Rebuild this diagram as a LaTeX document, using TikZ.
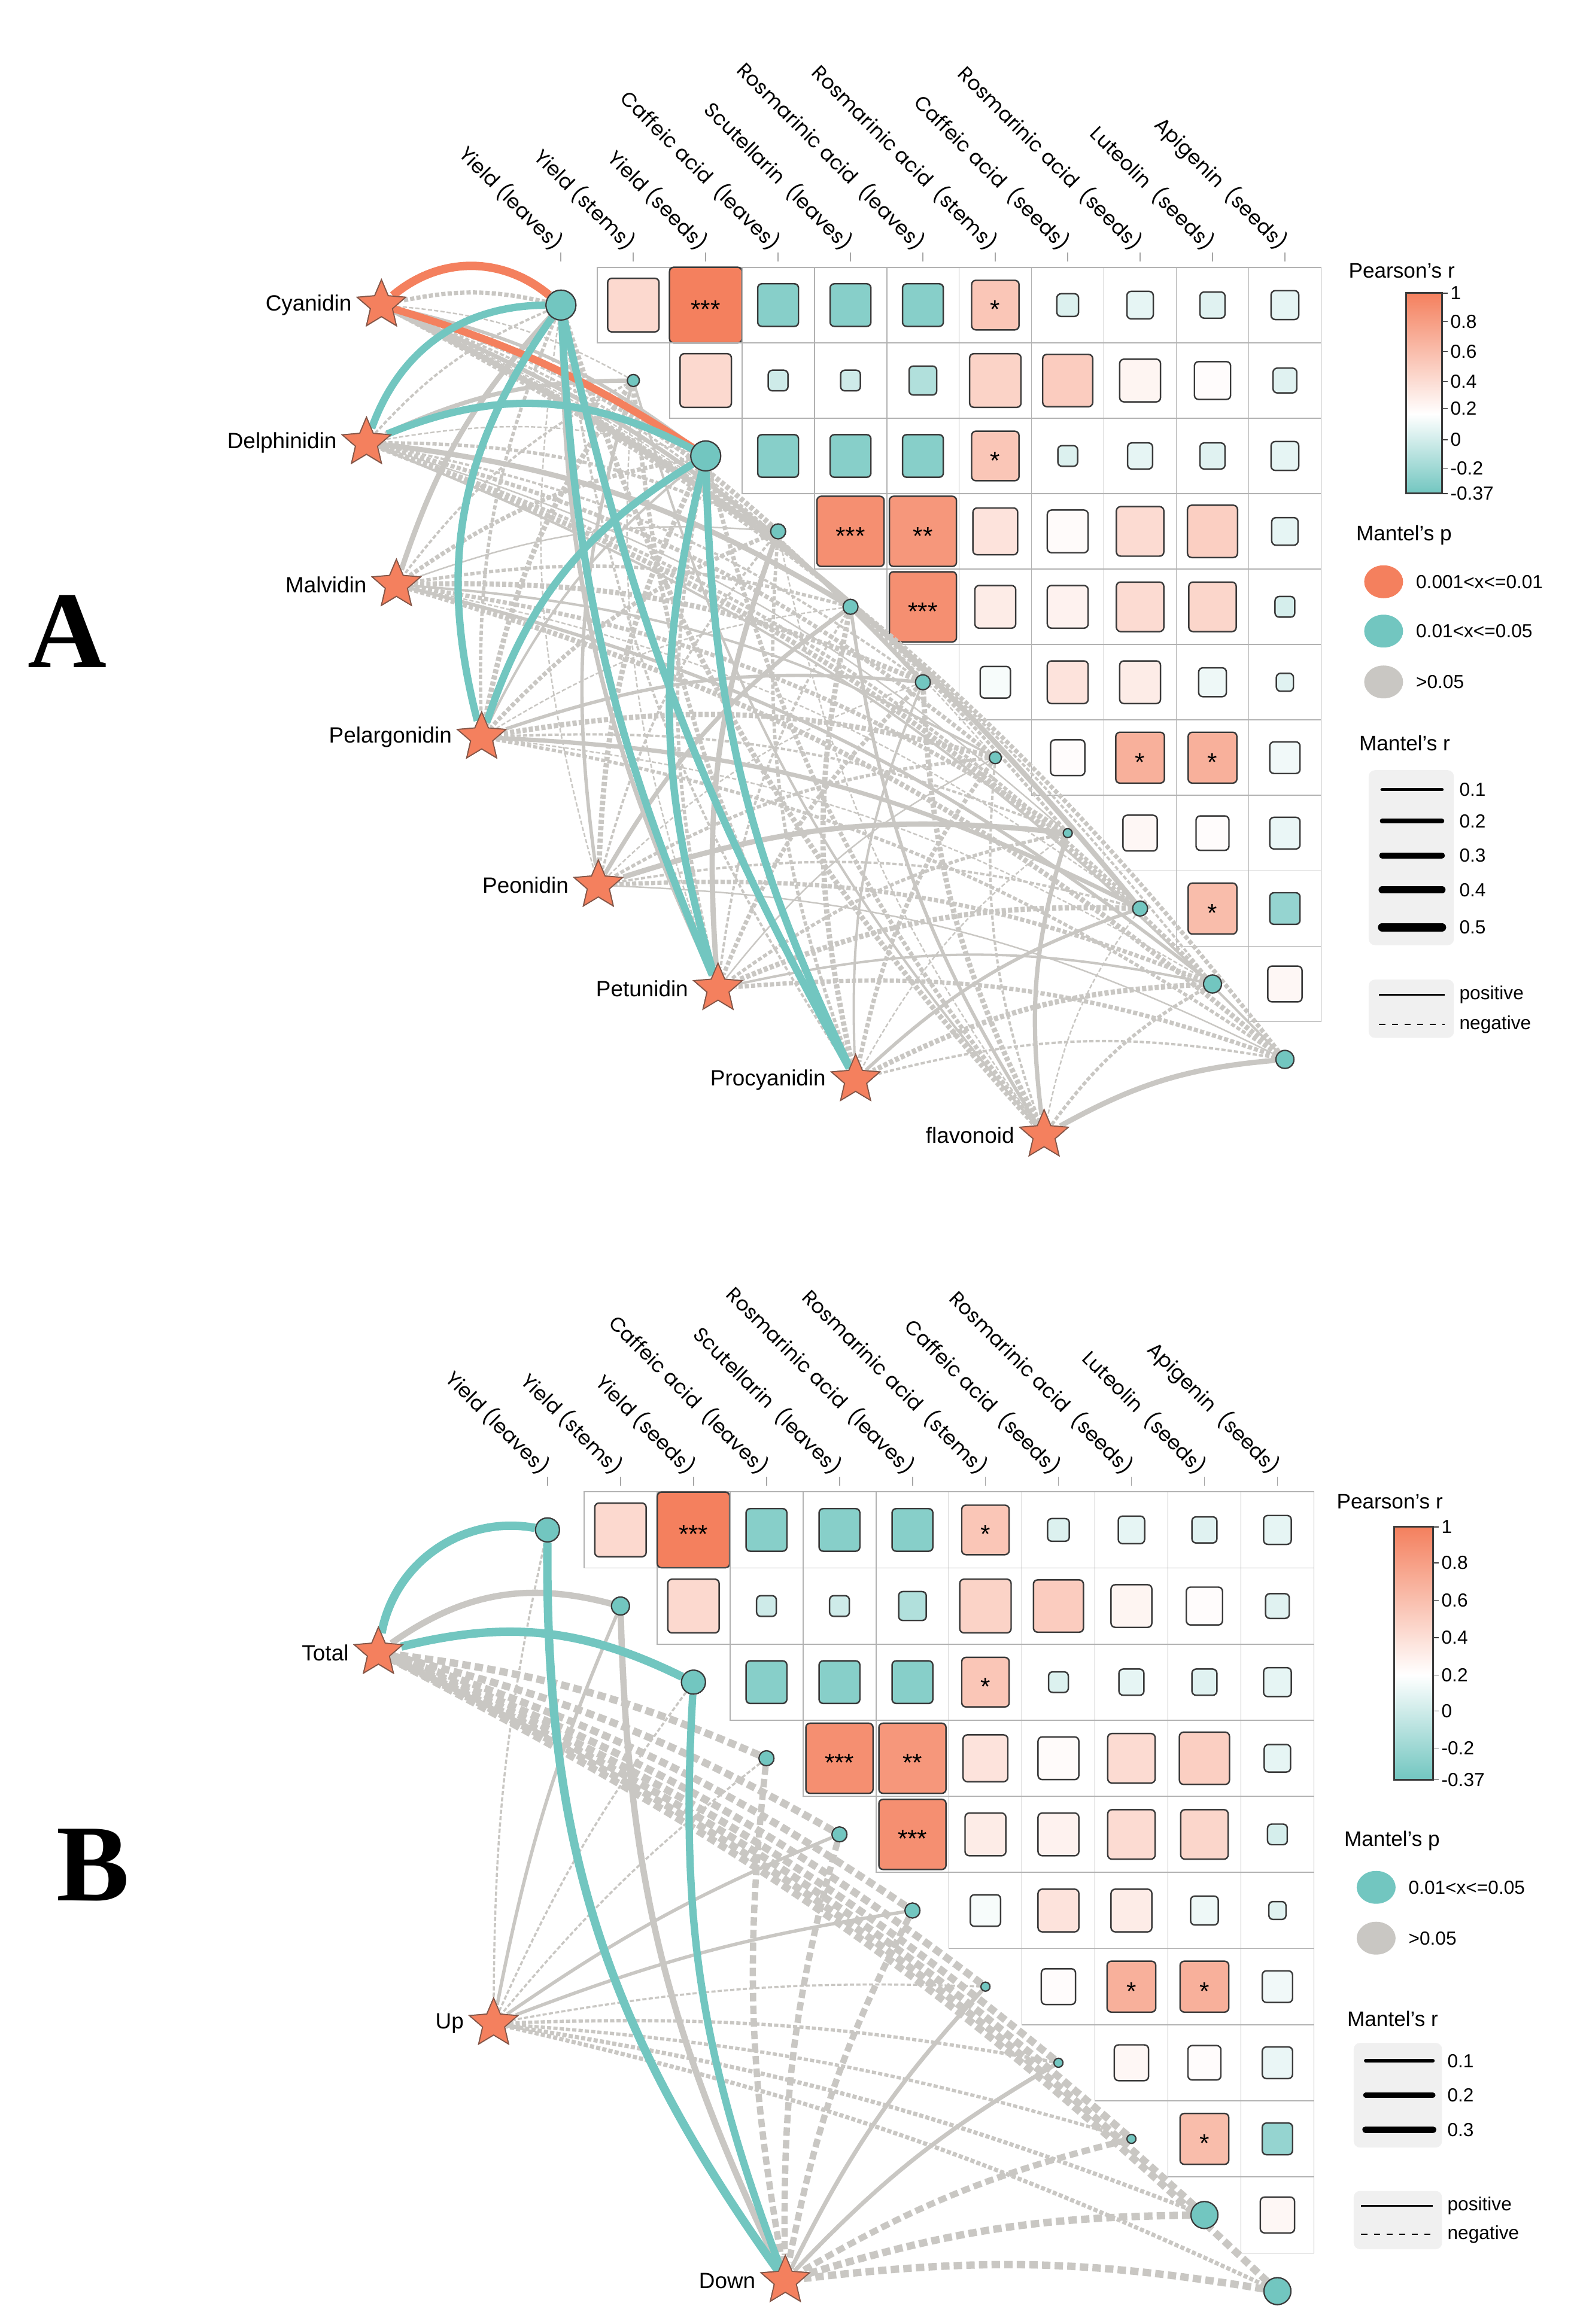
\documentclass[tikz,border=0pt]{standalone}
\usepackage{fontspec}
\setmainfont{Liberation Sans}
\newfontfamily\gothic{Poppins}
\newfontfamily\timesf{Liberation Serif}
\usetikzlibrary{shapes.geometric}
\definecolor{mOrange}{HTML}{F4805E}
\definecolor{mTeal}{HTML}{72C6C0}
\definecolor{mGray}{HTML}{C9C7C3}
\definecolor{mEdge}{HTML}{3A3A3A}
\tikzset{
  cell/.style={draw=gray!60, line width=0.5pt},
  rbox/.style={draw=mEdge, line width=0.7pt, rounded corners=2pt},
  var/.style={circle, draw=mEdge, fill=mTeal, line width=0.6pt, inner sep=0pt},
  anth/.style={star, star points=5, star point ratio=2.2, draw=mEdge!60!mOrange, fill=mOrange, minimum size=0.85cm, inner sep=0pt, line width=0.5pt},
  lab/.style={font=\fontsize{10.5}{12}\selectfont, anchor=east},
  collab/.style={font=\gothic\fontsize{9.5}{11}\selectfont, rotate=-45, anchor=east, inner sep=1pt},
  leg/.style={font=\fontsize{9}{10}\selectfont, anchor=west, inner sep=1pt},
  pos/.style={line width=#1pt, mGray},
  neg/.style={line width=#1pt, mGray, dash pattern=on 2pt off 1pt},
  sigA/.style={line width=#1pt, mOrange},
  sigB/.style={line width=#1pt, mTeal},
}
% correlation grid: #1 x of first variable, #2 y of first row, #3 column step, #4 row step
\newcommand{\corrgrid}[4]{%
  \foreach \i/\j/\t/\p/\s/\l in {
    0/1/o/30/0.78/, 0/2/o/100/1.1/***, 0/3/t/85/0.62/, 0/4/t/85/0.62/, 0/5/t/85/0.62/, 0/6/o/45/0.72/*, 0/7/t/25/0.33/, 0/8/t/18/0.4/, 0/9/t/22/0.38/, 0/10/t/18/0.42/,
    1/2/o/30/0.78/, 1/3/t/35/0.3/, 1/4/t/35/0.3/, 1/5/t/55/0.42/, 1/6/o/35/0.78/, 1/7/o/40/0.76/, 1/8/o/8/0.62/, 1/9/o/2/0.55/, 1/10/t/22/0.36/,
    2/3/t/85/0.62/, 2/4/t/85/0.62/, 2/5/t/85/0.62/, 2/6/o/45/0.72/*, 2/7/t/25/0.3/, 2/8/t/18/0.38/, 2/9/t/22/0.38/, 2/10/t/18/0.42/,
    3/4/o/88/1.02/***, 3/5/o/82/1.02/**, 3/6/o/22/0.68/, 3/7/o/3/0.62/, 3/8/o/28/0.72/, 3/9/o/38/0.76/, 3/10/t/18/0.4/,
    4/5/o/88/1.02/***, 4/6/o/15/0.62/, 4/7/o/10/0.62/, 4/8/o/28/0.72/, 4/9/o/32/0.72/, 4/10/t/30/0.3/,
    5/6/t/6/0.46/, 5/7/o/22/0.62/, 5/8/o/15/0.62/, 5/9/t/12/0.42/, 5/10/t/22/0.26/,
    6/7/o/2/0.52/, 6/8/o/62/0.74/*, 6/9/o/62/0.74/*, 6/10/t/10/0.46/,
    7/8/o/6/0.52/, 7/9/o/2/0.5/, 7/10/t/15/0.46/,
    8/9/o/52/0.74/*, 8/10/t/75/0.46/,
    9/10/o/6/0.52/}{
    \pgfmathsetmacro\cx{#1+#3*\j}
    \pgfmathsetmacro\cy{#2+#4*\i}
    \draw[cell] (\cx-#3/2,\cy-#4/2) rectangle (\cx+#3/2,\cy+#4/2);
    \if\t o\def\cc{mOrange!\p!white}\else\def\cc{mTeal!\p!white}\fi
    \draw[rbox, fill=\cc] (\cx-22*\s,\cy-23*\s) rectangle (\cx+22*\s,\cy+23*\s);
    \node[font=\fontsize{12}{12}\selectfont] at (\cx,\cy+3) {\l};
  }
  \foreach \n [count=\k from 0] in {Yield (leaves), Yield (stems), Yield (seeds),
      Caffeic acid\ \ (leaves), Scutellarin\ \ (leaves), Rosmarinic acid\ \ (leaves),
      Rosmarinic acid\ \ (stems), Caffeic acid\ \ (seeds), Rosmarinic acid\ \ (seeds),
      Luteolin\ \ (seeds), Apigenin\ \ (seeds)}{
    \pgfmathsetmacro\cx{#1+#3*\k}
    \draw[gray!70, line width=0.5pt] (\cx,#2-#4/2-4) -- (\cx,#2-#4/2-10);
    \node[collab] at (\cx,#2-#4/2-13) {\n};
  }
}
\begin{document}
\begin{tikzpicture}[x=0.025cm, y=-0.025cm]
  \useasboundingbox (0,0) rectangle (1050,1554);

  % ---------------- panel A ----------------
  \node[font=\timesf\bfseries\fontsize{52}{52}\selectfont] (pA) at (45,422) {A};
  \corrgrid{375}{204}{48.4}{50.44}
  % variables on the diagonal
  \foreach \r [count=\k from 0] in {10,4,10,5,5,5,4,3,5,6,6}
    \node[var, minimum size=\r*0.05cm] (a\k) at (375+48.4*\k, 204+50.44*\k) {};
  % anthocyanins
  \foreach \n/\x/\y [count=\s] in {Cyanidin/255/204, Delphinidin/245/296, Malvidin/265/391,
      Pelargonidin/322/493, Peonidin/400/592, Petunidin/480/661, Procyanidin/572/722, flavonoid/698/759}{
    \node[anth] (s\s) at (\x,\y) {};
    \node[lab] at (\x-15,\y) {\n};
  }
  % links
  \begin{scope}[on background layer/.style={}]
  \foreach \s in {1,...,8}
    \foreach \c in {0,...,10}{
      \pgfmathsetmacro\w{0.7+mod(3*\s+7*\c,5)*0.45}
      \pgfmathtruncatemacro\d{mod(5*\s+2*\c,3)}
      \ifnum\d=0
        \draw[pos=\w] (a\c) to[bend right=12] (s\s);
      \else
        \draw[neg=\w] (a\c) to[bend right=12] (s\s);
      \fi
    }
  \end{scope}
  \draw[sigA=4] (a0) to[bend right=40] (s1);
  \draw[sigA=3.5] (a2) to[bend right=8] (s1);
  \foreach \c/\s/\b in {0/2/35, 0/4/25, 0/6/10, 0/7/8, 2/2/25, 2/4/20, 2/6/15, 2/7/12}
    \draw[sigB=3.5] (a\c) to[bend right=\b] (s\s);
  \foreach \k in {0,...,10} \node[var, minimum size=0cm] at (a\k) {};
  \foreach \r [count=\k from 0] in {10,4,10,5,5,5,4,3,5,6,6}
    \node[var, minimum size=\r*0.05cm] at (a\k) {};
  \foreach \s in {1,...,8} \node[anth] at (s\s) {};

  % legend A
  \node[leg, font=\fontsize{10}{11}\selectfont] at (900,181) {Pearson's r};
  \shade[top color=mOrange, bottom color=white] (940,196) rectangle (964,277);
  \shade[top color=white, bottom color=mTeal] (940,277) rectangle (964,330);
  \draw[mEdge, line width=0.8pt] (940,196) rectangle (964,330);
  \foreach \v/\y in {1/196, 0.8/215, 0.6/235, 0.4/255, 0.2/273, 0/294, -0.2/313, -0.37/330}{
    \draw[mEdge] (964,\y) -- (968,\y);
    \node[leg] at (968,\y) {\v};
  }
  \node[leg, font=\fontsize{10}{11}\selectfont] at (905,358) {Mantel's p};
  \foreach \c/\t/\y in {mOrange/0.001<x<=0.01/389, mTeal/0.01<x<=0.05/422, mGray/>0.05/456}{
    \fill[\c] (925,\y) ellipse (13 and 11);
    \node[leg] at (945,\y) {\t};
  }
  \node[leg, font=\fontsize{10}{11}\selectfont] at (907,497) {Mantel's r};
  \fill[gray!12, rounded corners=3pt] (915,515) rectangle (972,632);
  \foreach \v/\y/\w in {0.1/528/1.6, 0.2/549/2.2, 0.3/572/2.8, 0.4/595/3.4, 0.5/620/4}{
    \draw[line width=\w pt, line cap=round] (924,\y) -- (964,\y);
    \node[leg] at (974,\y) {\v};
  }
  \fill[gray!12, rounded corners=3pt] (915,655) rectangle (972,694);
  \draw[line width=0.8pt] (922,665) -- (966,665);
  \draw[line width=0.8pt, dashed] (922,685) -- (966,685);
  \node[leg] at (974,665) {positive};
  \node[leg] at (974,685) {negative};

  % ---------------- panel B ----------------
  \node[font=\timesf\bfseries\fontsize{52}{52}\selectfont] (pB) at (62,1247) {B};
  \corrgrid{366}{1023}{48.8}{50.9}
  \foreach \r [count=\k from 0] in {8,6,8,5,5,5,3,3,3,9,9}
    \node[var, minimum size=\r*0.05cm] (b\k) at (366+48.8*\k, 1023+50.9*\k) {};
  \node[anth] (t) at (253,1105) {};  \node[lab] at (238,1105) {Total};
  \node[anth] (u) at (330,1353) {};  \node[lab] at (315,1353) {Up};
  \node[anth] (d) at (525,1525) {};  \node[lab] at (510,1525) {Down};
  % links from Total
  \foreach \c in {3,...,10}
    \draw[mGray, line width=3.5pt, dash pattern=on 4pt off 2pt] (b\c) to[bend right=8] (t);
  \draw[pos=3] (b1) to[bend right=25] (t);
  % links from Up
  \foreach \c/\w/\k in {0/1/n, 1/1.6/p, 2/1/n, 3/1/n, 4/1.6/p, 5/1.6/p, 6/1/n, 7/1.6/n, 8/1.6/n, 9/2/n, 10/2/n}{
    \if\k p\draw[pos=\w] (b\c) to[bend right=6] (u);
    \else\draw[neg=\w] (b\c) to[bend right=6] (u);\fi
  }
  % links from Down
  \foreach \c/\w/\k in {3/3/n, 4/3/n, 5/3/n, 6/2/p, 7/2/p, 8/3/n, 9/3.5/n, 10/3.5/n}{
    \if\k p\draw[pos=\w] (b\c) to[bend right=8] (d);
    \else\draw[mGray, line width=\w pt, dash pattern=on 4pt off 2pt] (b\c) to[bend right=8] (d);\fi
  }
  \draw[pos=3] (b1) to[bend right=12] (d);
  \draw[sigB=4] (b0) to[bend right=45] (t);
  \draw[sigB=4] (b2) to[bend right=20] (t);
  \draw[sigB=4] (b0) to[bend right=18] (d);
  \draw[sigB=3.5] (b2) to[bend right=12] (d);
  \foreach \r [count=\k from 0] in {8,6,8,5,5,5,3,3,3,9,9}
    \node[var, minimum size=\r*0.05cm] at (b\k) {};
  \node[anth] at (t) {}; \node[anth] at (u) {}; \node[anth] at (d) {};

  % legend B
  \node[leg, font=\fontsize{10}{11}\selectfont] at (892,1004) {Pearson's r};
  \shade[top color=mOrange, bottom color=white] (932,1021) rectangle (958,1120);
  \shade[top color=white, bottom color=mTeal] (932,1120) rectangle (958,1190);
  \draw[mEdge, line width=0.8pt] (932,1021) rectangle (958,1190);
  \foreach \v/\y in {1/1021, 0.8/1045, 0.6/1070, 0.4/1095, 0.2/1120, 0/1144, -0.2/1169, -0.37/1190}{
    \draw[mEdge] (958,\y) -- (962,\y);
    \node[leg] at (962,\y) {\v};
  }
  \node[leg, font=\fontsize{10}{11}\selectfont] at (897,1231) {Mantel's p};
  \foreach \c/\t/\y in {mTeal/0.01<x<=0.05/1262, mGray/>0.05/1296}{
    \fill[\c] (920,\y) ellipse (13 and 11);
    \node[leg] at (940,\y) {\t};
  }
  \node[leg, font=\fontsize{10}{11}\selectfont] at (899,1350) {Mantel's r};
  \fill[gray!12, rounded corners=3pt] (905,1366) rectangle (964,1436);
  \foreach \v/\y/\w in {0.1/1378/1.6, 0.2/1401/2.4, 0.3/1424/3.2}{
    \draw[line width=\w pt, line cap=round] (913,\y) -- (958,\y);
    \node[leg] at (966,\y) {\v};
  }
  \fill[gray!12, rounded corners=3pt] (905,1465) rectangle (964,1504);
  \draw[line width=0.8pt] (910,1475) -- (958,1475);
  \draw[line width=0.8pt, dashed] (910,1494) -- (958,1494);
  \node[leg] at (966,1475) {positive};
  \node[leg] at (966,1494) {negative};
\end{tikzpicture}
\end{document}
